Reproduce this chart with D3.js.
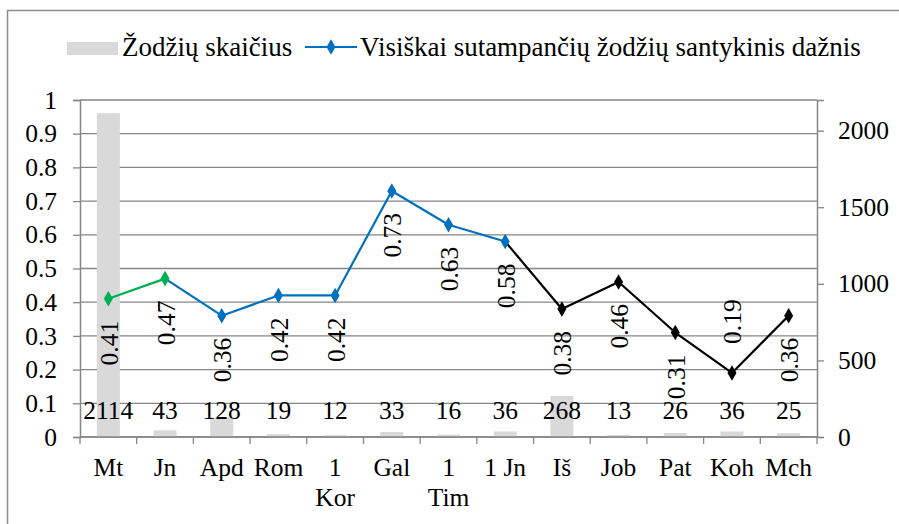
<!DOCTYPE html>
<html>
<head>
<meta charset="utf-8">
<script src="https://cdn.jsdelivr.net/npm/d3@7"></script>
<style>
body { margin: 0; background: #fff; }
svg text { font-family: "Liberation Serif", "Times New Roman", serif; fill: #000; }
</style>
</head>
<body>
<svg width="899" height="524"></svg>
<script>
var categories = ["Mt", "Jn", "Apd", "Rom", "1 Kor", "Gal", "1 Tim", "1 Jn", "Iš", "Job", "Pat", "Koh", "Mch"];
var wordCounts = [2114, 43, 128, 19, 12, 33, 16, 36, 268, 13, 26, 36, 25];
var matchRatio = [0.41, 0.47, 0.36, 0.42, 0.42, 0.73, 0.63, 0.58, 0.38, 0.46, 0.31, 0.19, 0.36];
var leftTicks = [0, 0.1, 0.2, 0.3, 0.4, 0.5, 0.6, 0.7, 0.8, 0.9, 1];
var rightTicks = [0, 500, 1000, 1500, 2000];
var labelAbove = ["Koh"];

var svg = d3.select("svg"),
    pLeft = 80, pRight = 817, pTop = 100, pBottom = 437,
    fs = 25.5;

// frame around the chart (runs off the page on the right and bottom)
svg.append("rect")
    .attr("x", 7.5).attr("y", 10.5)
    .attr("width", 910).attr("height", 530)
    .attr("fill", "none").attr("stroke", "#8c8c8c").attr("stroke-width", 1.5);

var x = d3.scaleBand().domain(categories).range([pLeft, pRight]);
var yL = d3.scaleLinear().domain([0, 1]).range([pBottom, pTop]);
var yR = d3.scaleLinear().domain([0, 2200]).range([pBottom, pTop]);

var grid = "#868686";

// gridlines
svg.append("g").selectAll("line")
    .data(leftTicks)
    .enter().append("line")
    .attr("x1", pLeft).attr("x2", pRight)
    .attr("y1", function (d) { return yL(d); })
    .attr("y2", function (d) { return yL(d); })
    .attr("stroke", grid).attr("stroke-width", 1.3);

// bars
svg.append("g").selectAll("rect")
    .data(wordCounts)
    .enter().append("rect")
    .attr("x", function (d, i) { return x(categories[i]) + x.bandwidth() / 2 - 11.5; })
    .attr("y", function (d) { return yR(d); })
    .attr("width", 23)
    .attr("height", function (d) { return pBottom - yR(d); })
    .attr("fill", "#d9d9d9");

// left axis
var axL = svg.append("g")
    .attr("transform", "translate(" + pLeft + ",0)")
    .call(d3.axisLeft(yL).tickValues(leftTicks).tickSize(7).tickPadding(16)
        .tickFormat(function (d) { return d === 0 || d === 1 ? d : d3.format(".1f")(d); }));

// right axis
var axR = svg.append("g")
    .attr("transform", "translate(" + pRight + ",0)")
    .call(d3.axisRight(yR).tickValues(rightTicks).tickSize(7).tickPadding(14)
        .tickFormat(d3.format("d")));

// bottom axis
var axB = svg.append("g")
    .attr("transform", "translate(0," + pBottom + ")")
    .call(d3.axisBottom(x).tickSize(0).tickPadding(21));

[axL, axR, axB].forEach(function (a) {
    a.attr("font-family", null);
    a.select(".domain").attr("stroke", grid).attr("stroke-width", 1.5);
    a.selectAll(".tick line").attr("stroke", grid).attr("stroke-width", 1.3);
    a.selectAll("text").attr("font-size", fs).attr("fill", "#000");
});
axB.select(".domain").attr("d", "M" + pLeft + ",0H" + pRight);

// bottom ticks at band boundaries
svg.append("g").selectAll("line")
    .data(categories.concat(["end"]))
    .enter().append("line")
    .attr("x1", function (d, i) { return pLeft + i * x.step(); })
    .attr("x2", function (d, i) { return pLeft + i * x.step(); })
    .attr("y1", pBottom).attr("y2", pBottom + 7)
    .attr("stroke", grid).attr("stroke-width", 1.3);

// wrap "1 Kor" and "1 Tim"
axB.selectAll(".tick text").each(function (d) {
    var t = d3.select(this);
    if (d === "1 Kor" || d === "1 Tim") {
        var parts = d.split(" ");
        t.text(null);
        t.append("tspan").attr("x", 0).attr("dy", "0.71em").text(parts[0]);
        t.append("tspan").attr("x", 0).attr("dy", "1.17em").text(parts[1]);
        t.attr("dy", null);
    }
});

// bar value labels
svg.append("g").selectAll("text")
    .data(wordCounts)
    .enter().append("text")
    .attr("x", function (d, i) { return x(categories[i]) + x.bandwidth() / 2; })
    .attr("y", 419)
    .attr("text-anchor", "middle")
    .attr("font-size", fs)
    .text(function (d) { return d; });

// line colours by segment
function pointColor(i) {
    if (i <= 1) return "#00b050";
    if (i <= 7) return "#0070c0";
    return "#000000";
}

var cx = function (i) { return x(categories[i]) + x.bandwidth() / 2; };

var lines = svg.append("g");
matchRatio.forEach(function (v, i) {
    if (i === 0) return;
    lines.append("line")
        .attr("x1", cx(i - 1)).attr("y1", yL(matchRatio[i - 1]))
        .attr("x2", cx(i)).attr("y2", yL(v))
        .attr("stroke", pointColor(i)).attr("stroke-width", 2.2);
});

svg.append("g").selectAll("path")
    .data(matchRatio)
    .enter().append("path")
    .attr("d", d3.symbol().type(d3.symbolDiamond).size(70))
    .attr("transform", function (d, i) { return "translate(" + cx(i) + "," + yL(d) + ")"; })
    .attr("fill", function (d, i) { return pointColor(i); });

// rotated value labels
svg.append("g").selectAll("text")
    .data(matchRatio)
    .enter().append("text")
    .attr("transform", function (d, i) {
        var above = labelAbove.indexOf(categories[i]) >= 0;
        var yy = above ? yL(d) - 29 : yL(d) + 22;
        return "translate(" + (cx(i) + 1) + "," + yy + ") rotate(-90)";
    })
    .attr("text-anchor", function (d, i) { return labelAbove.indexOf(categories[i]) >= 0 ? "start" : "end"; })
    .attr("dominant-baseline", "central")
    .attr("font-size", fs)
    .text(function (d) { return d3.format(".2f")(d); });

// legend
var lg = svg.append("g");
lg.append("rect").attr("x", 67).attr("y", 42).attr("width", 51).attr("height", 13).attr("fill", "#d9d9d9");
lg.append("text").attr("x", 122).attr("y", 56).attr("font-size", 27).text("Žodžių skaičius");
lg.append("line").attr("x1", 305).attr("x2", 357).attr("y1", 47).attr("y2", 47)
    .attr("stroke", "#0070c0").attr("stroke-width", 2.2);
lg.append("path").attr("d", d3.symbol().type(d3.symbolDiamond).size(70))
    .attr("transform", "translate(331,47)").attr("fill", "#0070c0");
lg.append("text").attr("x", 360).attr("y", 56).attr("font-size", 27)
    .text("Visiškai sutampančių žodžių santykinis dažnis");
</script>
</body>
</html>
